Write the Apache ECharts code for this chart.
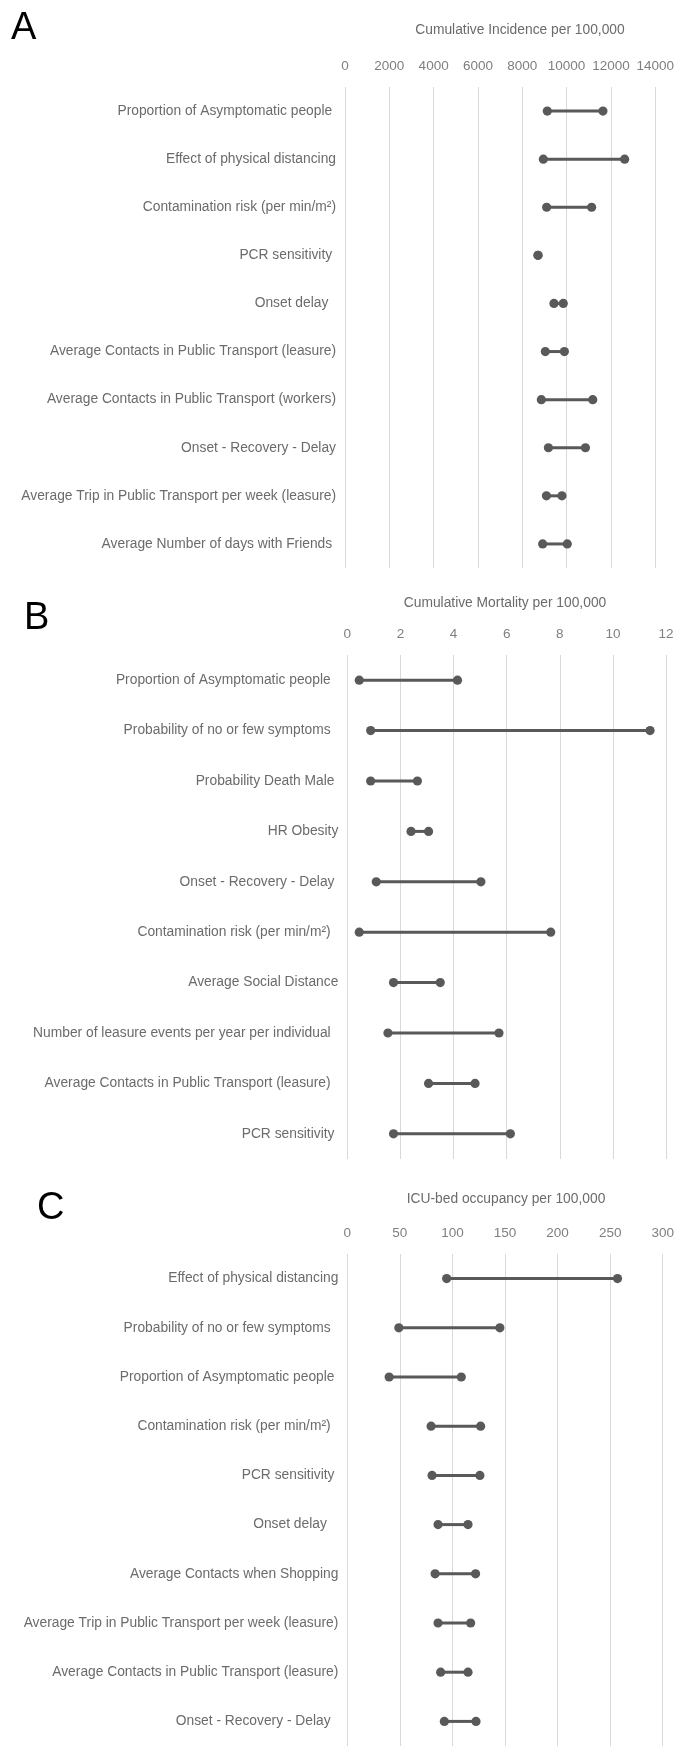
<!DOCTYPE html>
<html>
<head>
<meta charset="utf-8">
<script src="https://cdn.jsdelivr.net/npm/echarts@6/dist/echarts.min.js"></script>
<style>
html,body{margin:0;padding:0;background:#fff;}
#chart{width:677px;height:1746px;}
</style>
</head>
<body>
<div id="chart"></div>
<script>
// Panel A: Cumulative Incidence per 100,000
const catsA = [
  "Proportion of Asymptomatic people ",
  "Effect of physical distancing",
  "Contamination risk (per min/m²)",
  "PCR sensitivity ",
  "Onset delay  ",
  "Average Contacts in Public Transport (leasure)",
  "Average Contacts in Public Transport (workers)",
  "Onset - Recovery - Delay",
  "Average Trip in Public Transport per week (leasure)",
  "Average Number of days with Friends "
];
const lowA  = [9130, 8950, 9100, 8710, 9430, 9040, 8860, 9180, 9090, 8920];
const highA = [11640, 12620, 11130, 8710, 9850, 9900, 11180, 10850, 9790, 10030];

// Panel B: Cumulative Mortality per 100,000
const catsB = [
  "Proportion of Asymptomatic people  ",
  "Probability of no or few symptoms  ",
  "Probability Death Male ",
  "HR Obesity",
  "Onset - Recovery - Delay ",
  "Contamination risk (per min/m²)  ",
  "Average Social Distance",
  "Number of leasure events per year per individual  ",
  "Average Contacts in Public Transport (leasure)  ",
  "PCR sensitivity "
];
const lowB  = [0.45, 0.88, 0.88, 2.40, 1.09, 0.45, 1.74, 1.53, 3.06, 1.74];
const highB = [4.15, 11.40, 2.64, 3.06, 5.03, 7.66, 3.50, 5.71, 4.81, 6.14];

// Panel C: ICU-bed occupancy per 100,000
const catsC = [
  "Effect of physical distancing",
  "Probability of no or few symptoms  ",
  "Proportion of Asymptomatic people ",
  "Contamination risk (per min/m²)  ",
  "PCR sensitivity ",
  "Onset delay   ",
  "Average Contacts when Shopping",
  "Average Trip in Public Transport per week (leasure)",
  "Average Contacts in Public Transport (leasure)",
  "Onset - Recovery - Delay  "
];
const lowC  = [94.5, 49.0, 39.8, 79.7, 80.6, 86.3, 83.5, 86.3, 88.8, 92.3];
const highC = [257.0, 145.1, 108.4, 126.8, 126.1, 114.8, 122.0, 117.3, 114.8, 122.4];

const titles = ["Cumulative Incidence per 100,000", "Cumulative Mortality per 100,000", "ICU-bed occupancy per 100,000"];
const letters = ["A", "B", "C"];
const axisMax = [14000, 12, 300];
const axisInterval = [2000, 2, 50];

const FONT = "'Liberation Sans', Arial, sans-serif";
const DARK = "#595959";

const grids = [
  {left: 345, width: 310.7, top: 87, height: 481},
  {left: 347.3, width: 318.7, top: 655, height: 504},
  {left: 347.3, width: 316.4, top: 1254, height: 497}
];

function renderDumbbell(params, api) {
  const c = api.value(0);
  const p1 = api.coord([api.value(1), c]);
  const p2 = api.coord([api.value(2), c]);
  const r = 4.6;
  return {
    type: 'group',
    children: [
      {type: 'line', shape: {x1: p1[0], y1: p1[1], x2: p2[0], y2: p2[1]}, style: {stroke: DARK, lineWidth: 3}},
      {type: 'circle', shape: {cx: p1[0], cy: p1[1], r: r}, style: {fill: DARK}},
      {type: 'circle', shape: {cx: p2[0], cy: p2[1], r: r}, style: {fill: DARK}}
    ]
  };
}

const cats = [catsA, catsB, catsC];
const lows = [lowA, lowB, lowC];
const highs = [highA, highB, highC];

const xAxes = [], yAxes = [], series = [];
for (let i = 0; i < 3; i++) {
  xAxes.push({
    gridIndex: i, type: 'value', position: 'top', min: 0, max: axisMax[i], interval: axisInterval[i],
    axisLine: {show: false}, axisTick: {show: false},
    axisLabel: {color: '#7f7f7f', fontSize: 13.5, fontFamily: FONT, margin: 14, formatter: v => String(v)},
    splitLine: {show: true, lineStyle: {color: '#d9d9d9', width: 1}}
  });
  yAxes.push({
    gridIndex: i, type: 'category', inverse: true, data: cats[i],
    axisLine: {show: false}, axisTick: {show: false}, splitLine: {show: false},
    axisLabel: {color: '#6b6b6b', fontSize: 13.8, fontFamily: FONT, margin: 9}
  });
  series.push({
    type: 'custom', xAxisIndex: i, yAxisIndex: i,
    renderItem: renderDumbbell,
    encode: {x: [1, 2], y: 0},
    data: cats[i].map((c, k) => [k, lows[i][k], highs[i][k]]),
    silent: true, clip: false
  });
}

const titleComps = [
  {text: titles[0], left: 520, top: 23},
  {text: titles[1], left: 505, top: 596},
  {text: titles[2], left: 506, top: 1192}
].map(t => ({
  text: t.text, left: t.left, top: t.top, textAlign: 'center', padding: 0,
  textStyle: {color: '#6b6b6b', fontSize: 13.8, fontWeight: 'normal', fontFamily: FONT}
}));

const letterPos = [[11, 30], [24, 620], [37, 1210]];
const graphics = letters.map((l, i) => ({
  type: 'text', left: letterPos[i][0], top: letterPos[i][1] - 20,
  style: {text: l, fill: '#000', font: "38px " + FONT}
}));

const chart = echarts.init(document.getElementById('chart'), null, {renderer: 'canvas'});
chart.setOption({
  animation: false,
  backgroundColor: '#fff',
  title: titleComps,
  grid: grids,
  xAxis: xAxes,
  yAxis: yAxes,
  series: series,
  graphic: graphics
});
</script>
</body>
</html>
